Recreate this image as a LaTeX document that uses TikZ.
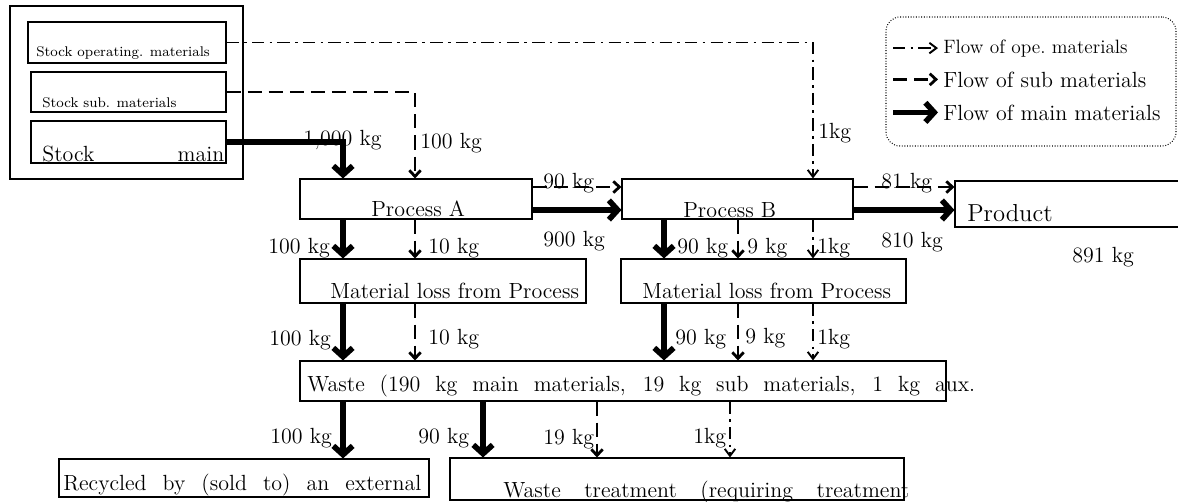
\documentclass[tikz,border=0pt]{standalone}
\usepackage{tikz}
\usetikzlibrary{arrows.meta,fit}

\begin{document}
\begin{tikzpicture}[
    x=0.02cm, y=-0.02cm,
    box/.style={draw, line width=0.6pt, inner sep=0pt},
    txt/.style={inner sep=0pt, anchor=base west, font=\fontsize{12.5}{15}\selectfont},
    small/.style={txt, font=\fontsize{8}{10}\selectfont},
    mainflow/.style={-{Straight Barb[length=5pt,width=11pt]}, line width=3.2pt},
    subflow/.style={-{Straight Barb[length=3.5pt,width=6.5pt]}, line width=1.6pt, dash pattern=on 8pt off 4pt},
    opeflow/.style={-{Straight Barb[length=4pt,width=6pt]}, line width=1.1pt, dash pattern=on 7pt off 3pt on 1.5pt off 3pt}
  ]
    \useasboundingbox (0,0) rectangle (1178,501);
    \coordinate (xa) at (343,0);
    \coordinate (xb) at (415,0);
    \coordinate (xc) at (664,0);
    \coordinate (xd) at (738,0);
    \coordinate (xe) at (813,0);
    \coordinate (xf) at (483,0);
    \coordinate (xg) at (597,0);
    \coordinate (xh) at (730,0);
    \coordinate (ys) at (0,187);
    \coordinate (ym) at (0,210);

    \node[box, fit={(10,6) (243,179)}] (stock) {};
    \node[box, fit={(28,22) (226,63)}] (stockop) {};
    \node[box, fit={(31,72) (226,112)}] (stocksub) {};
    \node[box, fit={(31,121) (226,163)}] (stockmain) {};
    \node[box, fit={(300,179) (532,219)}] (procA) {};
    \node[box, fit={(622,179) (853,219)}] (procB) {};
    \node[box, fit={(955,181) (1240,227)}] (product) {};
    \node[box, fit={(300,259) (586,303)}] (lossA) {};
    \node[box, fit={(621,259) (906,303)}] (lossB) {};
    \node[box, fit={(300,361) (946,401)}] (waste) {};
    \node[box, fit={(59,459) (429,497)}] (recycled) {};
    \node[box, fit={(450,458) (904,500)}] (treatment) {};
    \node[box, dash pattern=on 0.5pt off 1pt, rounded corners=8pt, fit={(886,17) (1176,146)}] (legend) {};

    \node[small] (stockop-t) at (36,56) {Stock operating. materials};
    \node[small] (stocksub-t) at (42,107) {Stock sub. materials};
    \node[txt] (stockmain-t) at (42,161) {\makebox[3.64cm][s]{Stock main}};
    \node[txt] (procA-t) at (371,216) {Process A};
    \node[txt] (procB-t) at (683,217) {Process B};
    \node[txt] (lossA-t) at (330,298) {Material loss from Process};
    \node[txt] (lossB-t) at (642,298) {Material loss from Process};
    \node[txt, font=\fontsize{14}{16}\selectfont] (product-t) at (967,221) {Product};
    \node[txt] (waste-t) at (307,391) {\makebox[13.36cm][s]{Waste (190 kg main materials, 19 kg sub materials, 1 kg aux.}};
    \node[txt] (recycled-t) at (63,490) {\makebox[7.16cm][s]{Recycled by (sold to) an external}};
    \node[txt] (treatment-t) at (503,497) {\makebox[8.12cm][s]{Waste treatment (requiring treatment}};

    \node[txt, font=\fontsize{11}{13}\selectfont] (lg-ope) at (943,53) {Flow of ope.\ materials};
    \node[txt] (lg-sub) at (943,87) {Flow of sub materials};
    \node[txt] (lg-main) at (943,120) {Flow of main materials};

    \node[txt] (kgA-in-main) at (303,145) {1,000 kg};
    \node[txt] (kgA-in-sub) at (420,148) {100 kg};
    \node[txt] (kgB-in-ope) at (818,138) {1kg};
    \node[txt] (kgAB-sub) at (543,188) {90 kg};
    \node[txt] (kgAB-main) at (543,246) {900 kg};
    \node[txt] (kgBP-sub) at (881,188) {81 kg};
    \node[txt] (kgBP-main) at (881,247) {810 kg};
    \node[txt] (kg-product) at (1072,262) {891 kg};
    \node[txt] (kgA-out-main) at (268,253) {100 kg};
    \node[txt] (kgA-out-sub) at (428,253) {10 kg};
    \node[txt] (kgB-out-main) at (677,253) {90 kg};
    \node[txt] (kgB-out-sub) at (747,253) {9 kg};
    \node[txt] (kgB-out-ope) at (817,253) {1kg};
    \node[txt] (kgLA-main) at (269,345) {100 kg};
    \node[txt] (kgLA-sub) at (428,344) {10 kg};
    \node[txt] (kgLB-main) at (675,344) {90 kg};
    \node[txt] (kgLB-sub) at (745,343) {9 kg};
    \node[txt] (kgLB-ope) at (817,344) {1kg};
    \node[txt] (kgW-rec) at (270,443) {100 kg};
    \node[txt] (kgW-main) at (418,443) {90 kg};
    \node[txt] (kgW-sub) at (543,444) {19 kg};
    \node[txt] (kgW-ope) at (693,443) {1kg};

    \draw[opeflow] ([xshift=-1cm]lg-ope.west) -- ([xshift=-0.1cm]lg-ope.west);
    \draw[subflow] ([xshift=-1cm]lg-sub.west) -- ([xshift=-0.1cm]lg-sub.west);
    \draw[mainflow] ([xshift=-1cm]lg-main.west) -- ([xshift=-0.1cm]lg-main.west);

    \draw[mainflow] (stockmain.east) -| (procA.north -| xa);
    \draw[subflow] (stocksub.east) -| (procA.north -| xb);
    \draw[opeflow] (stockop.east) -| (procB.north -| xe);
    \draw[subflow] (procA.east |- ys) -- (procB.west |- ys);
    \draw[mainflow] (procA.east |- ym) -- (procB.west |- ym);
    \draw[subflow] (procB.east |- ys) -- (product.west |- ys);
    \draw[mainflow] (procB.east |- ym) -- (product.west |- ym);
    \draw[mainflow] (procA.south -| xa) -- (lossA.north -| xa);
    \draw[subflow] (procA.south -| xb) -- (lossA.north -| xb);
    \draw[mainflow] (procB.south -| xc) -- (lossB.north -| xc);
    \draw[subflow] (procB.south -| xd) -- (lossB.north -| xd);
    \draw[opeflow] (procB.south -| xe) -- (lossB.north -| xe);
    \draw[mainflow] (lossA.south -| xa) -- (waste.north -| xa);
    \draw[subflow] (lossA.south -| xb) -- (waste.north -| xb);
    \draw[mainflow] (lossB.south -| xc) -- (waste.north -| xc);
    \draw[subflow] (lossB.south -| xd) -- (waste.north -| xd);
    \draw[opeflow] (lossB.south -| xe) -- (waste.north -| xe);
    \draw[mainflow] (waste.south -| xa) -- (recycled.north -| xa);
    \draw[mainflow] (waste.south -| xf) -- (treatment.north -| xf);
    \draw[subflow] (waste.south -| xg) -- (treatment.north -| xg);
    \draw[opeflow] (waste.south -| xh) -- (treatment.north -| xh);
  \end{tikzpicture}
\end{document}
